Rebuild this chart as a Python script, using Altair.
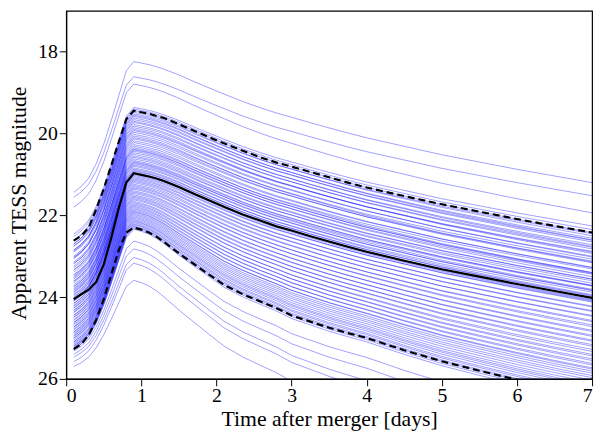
import altair as alt
import pandas as pd

# time grid (days)
T_RISE = [0.1, 0.2, 0.3, 0.4, 0.5, 0.6, 0.7, 0.8, 0.9]
T_DECAY = [1.0, 1.1, 1.2, 1.3, 1.5, 1.7, 1.9, 2.1, 2.35, 2.6, 2.8, 3.0,
           3.25, 3.5, 3.75, 4.0, 4.5, 5.0, 5.5, 6.0, 6.5, 7.0]
T_ALL = T_RISE + T_DECAY

# light-curve shape (fraction of rise / decline)
RISE_FRAC = [0.0, 0.045, 0.11, 0.22, 0.37, 0.55, 0.74, 0.93, 1.0]
DECAY_BRIGHT = [0.012, 0.025, 0.042, 0.062, 0.11, 0.165, 0.217, 0.268, 0.33, 0.385, 0.425,
                0.46, 0.505, 0.548, 0.59, 0.63, 0.70, 0.77, 0.83, 0.89, 0.945, 1.0]
DECAY_FAINT = [0.012, 0.029, 0.054, 0.085, 0.154, 0.217, 0.280, 0.341, 0.398, 0.444, 0.480,
               0.524, 0.561, 0.598, 0.629, 0.659, 0.732, 0.798, 0.854, 0.907, 0.956, 1.0]
BLEND_FROM, BLEND_TO = 21.0, 22.4

# individual simulated kilonovae: magnitude at t=0.1, at peak (t=0.9) and at t=7
START = [21.44, 21.56, 21.80, 22.46, 22.52, 22.61, 22.70, 22.62, 22.75, 22.70,
         22.85, 22.76, 22.88, 22.85, 23.00, 22.90, 23.06, 23.04, 23.03, 23.18,
         23.14, 23.24, 23.18, 23.33, 23.28, 23.39, 23.34, 23.50, 23.45, 23.53,
         23.47, 23.61, 23.56, 23.65, 23.61, 23.75, 23.70, 23.79, 23.74, 23.87,
         23.81, 23.89, 23.84, 23.99, 23.93, 24.01, 23.95, 24.08, 24.05, 24.09,
         24.06, 24.16, 24.10, 24.20, 24.15, 24.27, 24.22, 24.32, 24.26, 24.37,
         24.33, 24.44, 24.38, 24.49, 24.45, 24.55, 24.50, 24.62, 24.57, 24.66,
         24.62, 24.74, 24.69, 24.78, 24.73, 24.85, 24.80, 24.89, 24.85, 24.95,
         24.91, 25.00, 24.96, 25.05, 25.01, 25.10, 25.09, 25.16, 25.13, 25.20,
         25.19, 25.24, 25.23, 25.28, 25.28, 25.32, 25.40, 25.47, 25.58, 25.70]
PEAK = [18.24, 18.61, 18.79, 19.36, 19.40, 19.44, 19.48, 19.52, 19.55, 19.58,
        19.62, 19.66, 19.70, 19.73, 19.78, 19.82, 19.86, 19.90, 19.93, 19.97,
        20.02, 20.06, 20.10, 20.13, 20.18, 20.22, 20.27, 20.31, 20.35, 20.38,
        20.40, 20.43, 20.47, 20.51, 20.55, 20.58, 20.62, 20.66, 20.69, 20.71,
        20.74, 20.77, 20.80, 20.84, 20.87, 20.90, 20.92, 20.95, 20.97, 20.99,
        21.02, 21.05, 21.08, 21.11, 21.14, 21.17, 21.20, 21.24, 21.27, 21.30,
        21.33, 21.36, 21.40, 21.43, 21.46, 21.50, 21.53, 21.56, 21.59, 21.62,
        21.66, 21.69, 21.72, 21.75, 21.78, 21.81, 21.84, 21.87, 21.90, 21.92,
        21.95, 21.98, 22.01, 22.04, 22.07, 22.10, 22.13, 22.15, 22.18, 22.21,
        22.23, 22.26, 22.28, 22.31, 22.34, 22.63, 22.82, 23.03, 23.17, 23.59]
END = [21.20, 21.52, 21.94, 22.26, 22.35, 22.42, 22.50, 22.45, 22.60, 22.56,
       22.65, 22.61, 22.76, 22.72, 22.82, 22.78, 22.93, 22.90, 22.88, 23.02,
       23.00, 23.14, 23.07, 23.16, 23.12, 23.28, 23.27, 23.40, 23.31, 23.42,
       23.40, 23.50, 23.44, 23.56, 23.56, 23.66, 23.60, 23.72, 23.71, 23.81,
       23.73, 23.84, 23.83, 23.94, 23.88, 23.98, 23.96, 24.06, 24.02, 24.08,
       24.12, 24.10, 24.24, 24.22, 24.35, 24.33, 24.47, 24.45, 24.60, 24.57,
       24.72, 24.68, 24.84, 24.81, 24.96, 24.93, 25.08, 25.05, 25.20, 25.16,
       25.33, 25.28, 25.44, 25.40, 25.55, 25.51, 25.66, 25.62, 25.76, 25.73,
       25.81, 25.86, 25.92, 25.97, 26.03, 26.09, 26.14, 26.18, 26.23, 26.29,
       26.33, 26.38, 26.42, 26.47, 26.53, 26.95, 27.25, 27.60, 27.80, 28.30]

# median and 5th / 95th percentile curves
MEDIAN = [24.05, 23.93, 23.82, 23.63, 23.20, 22.55, 21.82, 21.20, 20.97,
          21.01, 21.05, 21.10, 21.16, 21.31, 21.47, 21.63, 21.79, 21.98, 22.14, 22.27,
          22.37, 22.51, 22.64, 22.77, 22.89, 23.11, 23.32, 23.50, 23.68, 23.85, 24.02]
UPPER = [22.62, 22.50, 22.30, 21.85, 21.35, 20.78, 20.20, 19.65, 19.44,
         19.48, 19.51, 19.57, 19.62, 19.77, 19.93, 20.09, 20.24, 20.42, 20.59, 20.71,
         20.81, 20.94, 21.07, 21.20, 21.32, 21.53, 21.73, 21.91, 22.09, 22.26, 22.42]
LOWER = [25.27, 25.15, 24.93, 24.55, 24.05, 23.45, 22.85, 22.42, 22.30,
         22.35, 22.42, 22.52, 22.65, 22.93, 23.19, 23.45, 23.70, 23.93, 24.12, 24.27,
         24.45, 24.60, 24.75, 24.88, 25.00, 25.30, 25.57, 25.80, 26.02, 26.22, 26.40]

rows = []
for i, (s, p, e) in enumerate(zip(START, PEAK, END)):
    w = min(max((p - BLEND_FROM) / (BLEND_TO - BLEND_FROM), 0.0), 1.0)
    for t, f in zip(T_RISE, RISE_FRAC):
        rows.append({"id": i, "t": t, "mag": s - (s - p) * f})
    for t, gb, gf in zip(T_DECAY, DECAY_BRIGHT, DECAY_FAINT):
        g = gb * (1 - w) + gf * w
        rows.append({"id": i, "t": t, "mag": p + (e - p) * g})
blue_df = pd.DataFrame(rows)

stat_rows = []
for name, vals in (("median", MEDIAN), ("upper", UPPER), ("lower", LOWER)):
    for t, m in zip(T_ALL, vals):
        stat_rows.append({"curve": name, "t": t, "mag": m})
stat_df = pd.DataFrame(stat_rows)

FONT = "Liberation Serif"

x_enc = alt.X("t:Q", scale=alt.Scale(domain=[0, 7], nice=False, zero=False),
              axis=alt.Axis(values=[0, 1, 2, 3, 4, 5, 6, 7], format="d",
                            labelBaseline="alphabetic", labelPadding=16,
                            title="Time after merger [days]",
                            titleY=47, titleBaseline="alphabetic"))
y_enc = alt.Y("mag:Q", scale=alt.Scale(domain=[17, 26], reverse=True, nice=False, zero=False),
              axis=alt.Axis(values=[18, 20, 22, 24, 26], format="d", labelPadding=2,
                            title="Apparent TESS magnitude",
                            titleX=-41, titleY=194.5, titleBaseline="alphabetic",
                            titleAlign="center", titleAngle=270))

blue = alt.Chart(blue_df).mark_line(clip=True, color="#0000ff", opacity=0.38,
                                    strokeWidth=1.0).encode(
    x=x_enc, y=y_enc, detail="id:N", order="t:Q")

median_line = alt.Chart(stat_df[stat_df.curve == "median"]).mark_line(
    clip=True, color="black", strokeWidth=2.2).encode(x="t:Q", y="mag:Q", order="t:Q")

dashed = alt.Chart(stat_df[stat_df.curve != "median"]).mark_line(
    clip=True, color="black", strokeWidth=2.2, strokeDash=[7, 4]).encode(
    x="t:Q", y="mag:Q", detail="curve:N", order="t:Q")

chart = alt.layer(blue, median_line, dashed).properties(
    width=533, height=373,
    autosize=alt.AutoSizeParams(type="none"),
    padding={"left": 59, "top": 0, "right": 5, "bottom": 58},
).configure_view(stroke="black", strokeWidth=1.2).configure_axis(
    grid=False, domainColor="black", domainWidth=1.2, tickColor="black", tickSize=7,
    tickWidth=1, labelFont=FONT, labelFontSize=20, labelColor="black",
    titleFont=FONT, titleFontSize=22, titleFontWeight="normal", titleColor="black",
)

chart.save("out.html", embed_options={"renderer": "svg", "actions": False})
